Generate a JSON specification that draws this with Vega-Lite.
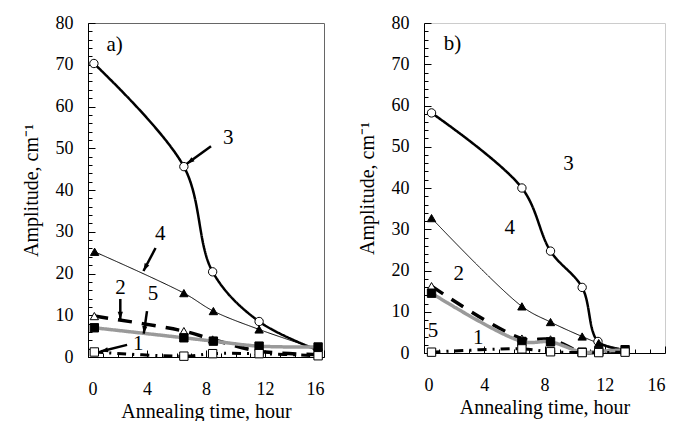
{
  "$schema": "https://vega.github.io/schema/vega-lite/v6.json",
  "padding": {"left": 20, "top": 13, "right": 5, "bottom": 0},
  "spacing": 30,
  "config": {
    "font": "Times New Roman",
    "style": {"guide-label": {"font": "Times New Roman"}, "guide-title": {"font": "Times New Roman"}},
    "axis": {"labelFont": "Times New Roman", "titleFont": "Times New Roman", "labelFontSize": 18, "titleFontSize": 20, "titleFontWeight": "normal", "grid": false, "domainColor": "black", "tickColor": "black", "labelColor": "black", "titleColor": "black", "domainWidth": 1, "tickWidth": 1},
    "axisX": {"labelFont": "Times New Roman", "titleFont": "Times New Roman", "labelPadding": 30, "titlePadding": 3},
    "axisY": {"labelFont": "Times New Roman", "titleFont": "Times New Roman", "labelPadding": 22, "titlePadding": 14}
  },
  "datasets": {
    "lines": [
      {"panel": "a", "s": "3", "x": 0.4, "y": 70.3}, {"panel": "a", "s": "3", "x": 6.5, "y": 45.6}, {"panel": "a", "s": "3", "x": 8.45, "y": 20.4}, {"panel": "a", "s": "3", "x": 11.6, "y": 8.5}, {"panel": "a", "s": "3", "x": 15.6, "y": 1.6},
      {"panel": "a", "s": "4", "x": 0.45, "y": 25.2}, {"panel": "a", "s": "4", "x": 6.5, "y": 15.3}, {"panel": "a", "s": "4", "x": 8.5, "y": 11.0}, {"panel": "a", "s": "4", "x": 11.6, "y": 6.6}, {"panel": "a", "s": "4", "x": 15.6, "y": 1.8},
      {"panel": "a", "s": "2", "x": 0.43, "y": 9.8}, {"panel": "a", "s": "2", "x": 6.5, "y": 6.2}, {"panel": "a", "s": "2", "x": 8.45, "y": 4.2}, {"panel": "a", "s": "2", "x": 11.6, "y": 1.4}, {"panel": "a", "s": "2", "x": 15.6, "y": 0.6},
      {"panel": "a", "s": "5", "x": 0.43, "y": 7.0}, {"panel": "a", "s": "5", "x": 6.5, "y": 4.6}, {"panel": "a", "s": "5", "x": 8.5, "y": 3.8}, {"panel": "a", "s": "5", "x": 11.6, "y": 2.6}, {"panel": "a", "s": "5", "x": 15.6, "y": 2.4},
      {"panel": "a", "s": "1", "x": 0.43, "y": 1.2}, {"panel": "a", "s": "1", "x": 6.5, "y": 0.2}, {"panel": "a", "s": "1", "x": 8.45, "y": 0.8}, {"panel": "a", "s": "1", "x": 11.6, "y": 0.8}, {"panel": "a", "s": "1", "x": 15.6, "y": 0.3},
      {"panel": "b", "s": "3", "x": 0.5, "y": 58.2}, {"panel": "b", "s": "3", "x": 6.5, "y": 40.0}, {"panel": "b", "s": "3", "x": 8.4, "y": 24.7}, {"panel": "b", "s": "3", "x": 10.5, "y": 15.9}, {"panel": "b", "s": "3", "x": 11.55, "y": 2.8}, {"panel": "b", "s": "3", "x": 13.35, "y": 0.8},
      {"panel": "b", "s": "4", "x": 0.5, "y": 32.7}, {"panel": "b", "s": "4", "x": 6.5, "y": 11.3}, {"panel": "b", "s": "4", "x": 8.4, "y": 7.5}, {"panel": "b", "s": "4", "x": 10.5, "y": 4.0}, {"panel": "b", "s": "4", "x": 11.6, "y": 2.4}, {"panel": "b", "s": "4", "x": 13.35, "y": 0.8},
      {"panel": "b", "s": "2", "x": 0.5, "y": 16.2}, {"panel": "b", "s": "2", "x": 6.5, "y": 3.5}, {"panel": "b", "s": "2", "x": 8.4, "y": 3.3}, {"panel": "b", "s": "2", "x": 10.5, "y": 0.2}, {"panel": "b", "s": "2", "x": 11.6, "y": 0.2}, {"panel": "b", "s": "2", "x": 13.35, "y": 0.4},
      {"panel": "b", "s": "5", "x": 0.5, "y": 14.5}, {"panel": "b", "s": "5", "x": 6.5, "y": 2.8}, {"panel": "b", "s": "5", "x": 8.4, "y": 2.7}, {"panel": "b", "s": "5", "x": 10.5, "y": 0.2}, {"panel": "b", "s": "5", "x": 11.6, "y": 0.4}, {"panel": "b", "s": "5", "x": 13.35, "y": 0.8},
      {"panel": "b", "s": "1", "x": 0.5, "y": 0.2}, {"panel": "b", "s": "1", "x": 6.5, "y": 1.0}, {"panel": "b", "s": "1", "x": 8.4, "y": 0.3}, {"panel": "b", "s": "1", "x": 10.5, "y": 0.1}, {"panel": "b", "s": "1", "x": 11.6, "y": 0.1}, {"panel": "b", "s": "1", "x": 13.35, "y": 0.2}
    ],
    "labels": [
      {"panel": "a", "text": "a)", "x": 1.8, "y": 74.7},
      {"panel": "a", "text": "3", "x": 9.5, "y": 52.5},
      {"panel": "a", "text": "4", "x": 4.9, "y": 29.5},
      {"panel": "a", "text": "2", "x": 2.2, "y": 16.5},
      {"panel": "a", "text": "5", "x": 4.4, "y": 15.1},
      {"panel": "a", "text": "1", "x": 3.4, "y": 3.1},
      {"panel": "b", "text": "b)", "x": 1.9, "y": 74.8},
      {"panel": "b", "text": "3", "x": 9.6, "y": 45.8},
      {"panel": "b", "text": "4", "x": 5.7, "y": 30.3},
      {"panel": "b", "text": "2", "x": 2.3, "y": 19.1},
      {"panel": "b", "text": "5", "x": 0.6, "y": 5.3},
      {"panel": "b", "text": "1", "x": 3.6, "y": 3.7}
    ],
    "arrows": [
      {"label": "3", "x": 8.34, "y": 50.5, "x2": 6.7, "y2": 46.3},
      {"label": "4", "x": 4.58, "y": 26.1, "x2": 3.76, "y2": 20.6},
      {"label": "2", "x": 2.19, "y": 13.9, "x2": 2.19, "y2": 9.0},
      {"label": "5", "x": 4.0, "y": 11.0, "x2": 3.78, "y2": 5.6},
      {"label": "1", "x": 2.65, "y": 2.9, "x2": 0.85, "y2": 1.3}
    ]
  },
  "hconcat": [
    {
      "width": 236, "height": 334,
      "view": {"stroke": "#666"},
      "encoding": {
        "x": {"field": "x", "type": "quantitative", "scale": {"domain": [0, 16], "nice": false},
              "axis": {"title": "Annealing time, hour", "labelFont": "Times New Roman", "titleFont": "Times New Roman", "values": [0,1,2,3,4,5,6,7,8,9,10,11,12,13,14,15,16], "labelExpr": "datum.value % 4 === 0 ? datum.label : ''", "tickSize": {"condition": {"test": "datum.value % 4 === 0", "value": -7}, "value": -4}}},
        "y": {"field": "y", "type": "quantitative", "scale": {"domain": [0, 80], "nice": false},
              "axis": {"title": "Amplitude, cm⁻¹", "labelFont": "Times New Roman", "titleFont": "Times New Roman", "values": [0,2,4,6,8,10,12,14,16,18,20,22,24,26,28,30,32,34,36,38,40,42,44,46,48,50,52,54,56,58,60,62,64,66,68,70,72,74,76,78,80], "labelExpr": "datum.value % 10 === 0 ? datum.label : ''", "tickSize": {"condition": {"test": "datum.value % 10 === 0", "value": -7}, "value": -4}}}
      },
      "layer": [
        {
          "data": {"name": "lines"},
          "transform": [{"filter": "datum.panel === 'a'"}],
          "mark": {"type": "line", "interpolate": "catmull-rom"},
          "encoding": {
            "detail": {"field": "s", "type": "nominal"},
            "color": {"field": "s", "type": "nominal", "scale": {"domain": ["1","2","3","4","5"], "range": ["#000","#000","#000","#000","#9a9a9a"]}, "legend": null},
            "strokeDash": {"field": "s", "type": "nominal", "scale": {"domain": ["1","2","3","4","5"], "range": [[9,6,2,6],[14,10],[1,0],[1,0],[1,0]]}, "legend": null},
            "strokeWidth": {"field": "s", "type": "nominal", "scale": {"type": "ordinal", "domain": ["1","2","3","4","5"], "range": [3,3.5,2.5,1,3.5]}, "legend": null}
          }
        },
        {
          "data": {"name": "lines"},
          "transform": [{"filter": "datum.panel === 'a'"}],
          "mark": {"type": "point", "filled": true, "stroke": "black", "strokeWidth": 1, "size": 70, "opacity": 1},
          "encoding": {
            "shape": {"field": "s", "type": "nominal", "scale": {"domain": ["1","2","3","4","5"], "range": ["square","triangle-up","circle","triangle-up","square"]}, "legend": null},
            "fill": {"field": "s", "type": "nominal", "scale": {"domain": ["1","2","3","4","5"], "range": ["white","white","white","black","black"]}, "legend": null}
          }
        },
        {
          "data": {"name": "arrows"},
          "mark": {"type": "rule", "strokeWidth": 2.5, "color": "black"},
          "encoding": {"x2": {"field": "x2"}, "y2": {"field": "y2"}}
        },
        {
          "data": {"name": "arrows"},
          "transform": [{"calculate": "atan2((datum.x2 - datum.x) * 14.7, (datum.y2 - datum.y) * 4.17) * 180 / PI", "as": "ang"}],
          "mark": {"type": "point", "shape": "M0,0L0.55,1.6L-0.55,1.6Z", "filled": true, "color": "black", "size": 90, "opacity": 1},
          "encoding": {
            "x": {"field": "x2", "type": "quantitative"},
            "y": {"field": "y2", "type": "quantitative"},
            "angle": {"field": "ang", "type": "quantitative", "scale": null}
          }
        },
        {
          "data": {"name": "labels"},
          "transform": [{"filter": "datum.panel === 'a'"}],
          "mark": {"type": "text", "font": "Times New Roman", "fontSize": 21, "color": "black", "align": "center", "baseline": "middle"},
          "encoding": {"text": {"field": "text"}}
        }
      ]
    },
    {
      "width": 241, "height": 330,
      "view": {"stroke": "#ccc"},
      "encoding": {
        "x": {"field": "x", "type": "quantitative", "scale": {"domain": [0, 16], "nice": false},
              "axis": {"title": "Annealing time, hour", "labelFont": "Times New Roman", "titleFont": "Times New Roman", "values": [0,1,2,3,4,5,6,7,8,9,10,11,12,13,14,15,16], "labelExpr": "datum.value % 4 === 0 ? datum.label : ''", "tickSize": {"condition": {"test": "datum.value % 4 === 0", "value": -7}, "value": -4}}},
        "y": {"field": "y", "type": "quantitative", "scale": {"domain": [0, 80], "nice": false},
              "axis": {"title": "Amplitude, cm⁻¹", "labelFont": "Times New Roman", "titleFont": "Times New Roman", "values": [0,2,4,6,8,10,12,14,16,18,20,22,24,26,28,30,32,34,36,38,40,42,44,46,48,50,52,54,56,58,60,62,64,66,68,70,72,74,76,78,80], "labelExpr": "datum.value % 10 === 0 ? datum.label : ''", "tickSize": {"condition": {"test": "datum.value % 10 === 0", "value": -7}, "value": -4}}}
      },
      "layer": [
        {
          "data": {"name": "lines"},
          "transform": [{"filter": "datum.panel === 'b'"}],
          "mark": {"type": "line", "interpolate": "catmull-rom"},
          "encoding": {
            "detail": {"field": "s", "type": "nominal"},
            "color": {"field": "s", "type": "nominal", "scale": {"domain": ["1","2","3","4","5"], "range": ["#000","#000","#000","#000","#9a9a9a"]}, "legend": null},
            "strokeDash": {"field": "s", "type": "nominal", "scale": {"domain": ["1","2","3","4","5"], "range": [[9,6,2,6],[14,10],[1,0],[1,0],[1,0]]}, "legend": null},
            "strokeWidth": {"field": "s", "type": "nominal", "scale": {"type": "ordinal", "domain": ["1","2","3","4","5"], "range": [3,3.5,2.5,1,3.5]}, "legend": null}
          }
        },
        {
          "data": {"name": "lines"},
          "transform": [{"filter": "datum.panel === 'b'"}],
          "mark": {"type": "point", "filled": true, "stroke": "black", "strokeWidth": 1, "size": 70, "opacity": 1},
          "encoding": {
            "shape": {"field": "s", "type": "nominal", "scale": {"domain": ["1","2","3","4","5"], "range": ["square","triangle-up","circle","triangle-up","square"]}, "legend": null},
            "fill": {"field": "s", "type": "nominal", "scale": {"domain": ["1","2","3","4","5"], "range": ["white","white","white","black","black"]}, "legend": null}
          }
        },
        {
          "data": {"name": "labels"},
          "transform": [{"filter": "datum.panel === 'b'"}],
          "mark": {"type": "text", "font": "Times New Roman", "fontSize": 21, "color": "black", "align": "center", "baseline": "middle"},
          "encoding": {"text": {"field": "text"}}
        }
      ]
    }
  ]
}
